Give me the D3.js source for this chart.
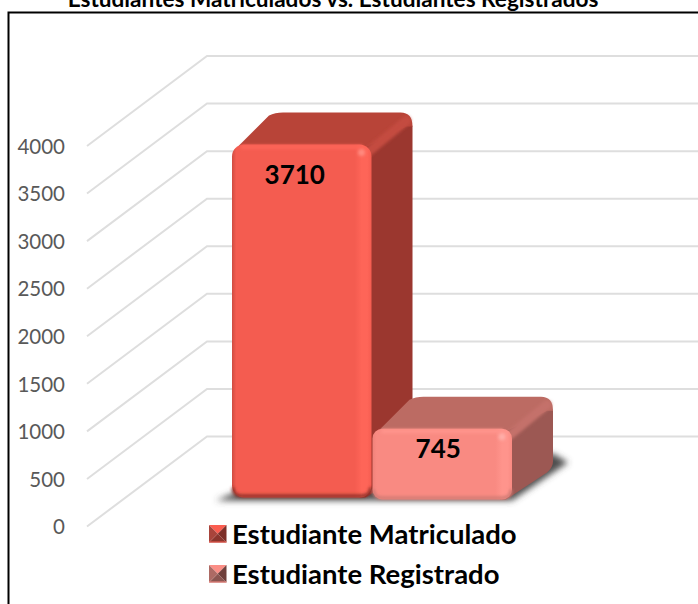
<!DOCTYPE html>
<html>
<head>
<meta charset="utf-8">
<script src="https://cdn.jsdelivr.net/npm/d3@7"></script>
<style>
  html, body { margin: 0; padding: 0; background: #fff; overflow: hidden; }
  text { font-family: Lato, "Open Sans", sans-serif; }
</style>
</head>
<body>
<div id="chart"></div>
<script>
"use strict";
const chartTitle = "Estudiantes Matriculados vs. Estudiantes Registrados";
const categories = ["Estudiante Matriculado", "Estudiante Registrado"];
const values = [3710, 745];
const yTicks = [0, 500, 1000, 1500, 2000, 2500, 3000, 3500, 4000];

const width = 698, height = 604;
const svg = d3.select("#chart").append("svg")
    .attr("width", width)
    .attr("height", height);

// colours for the two series
const palette = [
    { front: "#f45c50", top: "#b84438", side: "#9b372f", rim: "#fe6558", edge: "#cf4c41", dark: "#8a2d26", ridge: "#c44c41", spot: "#ff8a7f",
      mTop: "#fb5d50", mLeft: "#a8443b", mRight: "#7d2f28", mBottom: "#8a352d" },
    { front: "#f98a82", top: "#bc6b63", side: "#9c5853", rim: "#ff948c", edge: "#f0827a", dark: "#cf7a73", ridge: "#c4716a", spot: "#ffaea8",
      mTop: "#fb8e86", mLeft: "#ad6a64", mRight: "#6f403c", mBottom: "#8a5550" }
];

// fake 3d: floor runs from the front left corner to the back wall
const frontX = 87, frontY = 526.5;
const wallDX = 120, wallDY = -90;
const y = d3.scaleLinear().domain([0, 4000]).range([0, 380.5]);
const x = d3.scaleBand().domain(categories).range([232, 512]).paddingInner(0.007);
const barDX = 41, barDY = -32;
const floorY = [497.5, 499.5];
const labelShift = [{ dx: -7, dy: 30 }, { dx: -4, dy: 20 }];

const defs = svg.append("defs");
defs.append("filter").attr("id", "soft")
    .attr("x", "-20%").attr("y", "-40%").attr("width", "140%").attr("height", "180%")
    .append("feGaussianBlur").attr("stdDeviation", 3);
defs.append("filter").attr("id", "soft1")
    .attr("filterUnits", "userSpaceOnUse")
    .attr("x", 0).attr("y", 0).attr("width", width).attr("height", height)
    .append("feGaussianBlur").attr("stdDeviation", 1.5);

palette.forEach((c, i) => {
    const h = defs.append("linearGradient").attr("id", `edgeH${i}`);
    [[0, c.edge], [0.03, c.front], [0.88, c.front], [0.93, c.rim], [0.97, c.rim], [1, c.front]]
        .forEach(s => h.append("stop").attr("offset", s[0]).attr("stop-color", s[1]));
});

// chart frame, open on the right and at the bottom
svg.append("path")
    .attr("d", d3.line()([[width, 12.5], [8.5, 12.5], [8.5, height]]))
    .attr("fill", "none")
    .attr("stroke", "#000")
    .attr("stroke-width", 2);

svg.append("text")
    .attr("x", 333)
    .attr("y", 6.5)
    .attr("text-anchor", "middle")
    .attr("font-weight", 700)
    .attr("font-size", 22.6)
    .attr("fill", "#000")
    .text(chartTitle);

// gridlines: diagonal along the side wall, then flat along the back wall
svg.append("g").selectAll("path")
    .data(yTicks)
    .enter()
    .append("path")
    .attr("d", d => d3.line()([
        [frontX, frontY - y(d)],
        [frontX + wallDX, frontY + wallDY - y(d)],
        [width, frontY + wallDY - y(d)]
    ]))
    .attr("fill", "none")
    .attr("stroke", "#dedede")
    .attr("stroke-width", 2);

svg.append("g").selectAll("text")
    .data(yTicks)
    .enter()
    .append("text")
    .attr("x", 65)
    .attr("y", d => frontY - y(d))
    .attr("dy", "0.38em")
    .attr("text-anchor", "end")
    .attr("font-size", 20.5)
    .attr("fill", "#595959")
    .text(d => d);

// floor shadow
const shadowLeft = x(categories[0]) - 16;
const shadowRight = x(categories[1]) + x.bandwidth();
const shadow = d3.line()([
    [shadowLeft, floorY[1] + 1],
    [shadowRight, floorY[1] + 1],
    [shadowRight + barDX + 15, floorY[1] + barDY - 5],
    [shadowRight + barDX, floorY[1] + barDY - 14],
    [x(categories[0]) + 20, floorY[1] - 14]
]) + "Z";
svg.append("path")
    .attr("d", shadow)
    .attr("fill", "#4d4d4d")
    .attr("filter", "url(#soft)");

function drawBar(i) {
    const cat = categories[i], c = palette[i];
    const x0 = x(cat), x1 = x0 + x.bandwidth();
    const yb = floorY[i], yt = yb - y(values[i]);
    const g = svg.append("g");
    const r = 12;

    // right side face, rounded at its far corners
    g.append("path")
        .attr("d", `M${x1 - r},${yt + 6} L${x1 + barDX - 4},${yt + barDY + 4} L${x1 + barDX},${yt + barDY + r + 2}`
            + ` L${x1 + barDX},${yb + barDY - 6} Q${x1 + barDX},${yb + barDY} ${x1 + barDX - 6},${yb + barDY + 5}`
            + ` L${x1 - 6},${yb} L${x1 - r},${yb} Z`)
        .attr("fill", c.side);

    // top face, carried round the far corner so the ridge blends into it
    g.append("path")
        .attr("d", `M${x0 + 2},${yt + 6} L${x0 + barDX - 4},${yt + barDY + 3} Q${x0 + barDX + 2},${yt + barDY} ${x0 + barDX + 10},${yt + barDY}`
            + ` L${x1 + barDX - r},${yt + barDY} Q${x1 + barDX},${yt + barDY} ${x1 + barDX},${yt + barDY + r + 2}`
            + ` L${x1 + barDX - 6},${yt + barDY + r + 2} L${x1 - r},${yt + 6} Z`)
        .attr("fill", c.top);

    // soft ridge between top and side
    g.append("path")
        .attr("d", d3.line()([[x1 - 4, yt + 8], [x1 + barDX - 6, yt + barDY + 8]]))
        .attr("stroke", c.ridge)
        .attr("stroke-width", 9)
        .attr("stroke-linecap", "round")
        .attr("filter", "url(#soft1)");

    // front face
    g.append("rect")
        .attr("x", x0)
        .attr("y", yt)
        .attr("width", x.bandwidth())
        .attr("height", yb - yt)
        .attr("rx", i === 0 ? r : 10)
        .attr("fill", `url(#edgeH${i})`);

    // top and bottom bevel of the front
    g.append("path")
        .attr("d", d3.line()([[x0 + 9, yt + 2.5], [x1 - 9, yt + 2.5]]))
        .attr("stroke", c.rim)
        .attr("stroke-width", 4)
        .attr("filter", "url(#soft1)");
    g.append("path")
        .attr("d", `M${x0 + 1},${yb - 10} Q${x0 + 1},${yb - 1.5} ${x0 + 10},${yb - 1.5} L${x1 - 10},${yb - 1.5} Q${x1 - 1},${yb - 1.5} ${x1 - 1},${yb - 10}`)
        .attr("fill", "none")
        .attr("stroke", c.dark)
        .attr("stroke-width", 3)
        .attr("filter", "url(#soft1)");
    g.append("circle")
        .attr("cx", x1 - 10)
        .attr("cy", yt + 8)
        .attr("r", 3.5)
        .attr("fill", c.spot)
        .attr("filter", "url(#soft1)");

    g.append("text")
        .attr("x", (x0 + x1) / 2 + labelShift[i].dx)
        .attr("y", yt + labelShift[i].dy)
        .attr("dy", "0.36em")
        .attr("text-anchor", "middle")
        .attr("font-weight", 700)
        .attr("font-size", 26)
        .attr("fill", "#000")
        .text(values[i]);
}
categories.forEach((d, i) => drawBar(i));

// legend with pyramid markers
const legendY = d3.scaleBand().domain(categories).range([514, 594]);
const legend = svg.append("g").selectAll("g")
    .data(categories)
    .enter()
    .append("g")
    .attr("transform", d => `translate(209, ${legendY(d) + legendY.bandwidth() / 2 - 9})`);
const ms = 17.5, mc = ms / 2;
const faces = [
    { pts: [[0, 0], [ms, 0], [mc, mc]], key: "mTop" },
    { pts: [[ms, 0], [ms, ms], [mc, mc]], key: "mRight" },
    { pts: [[ms, ms], [0, ms], [mc, mc]], key: "mBottom" },
    { pts: [[0, ms], [0, 0], [mc, mc]], key: "mLeft" }
];
legend.each(function (d, i) {
    const m = d3.select(this);
    faces.forEach(f => {
        m.append("path")
            .attr("d", d3.line()(f.pts) + "Z")
            .attr("fill", palette[i][f.key]);
    });
    m.append("path")
        .attr("d", d3.line()([[0, ms - 0.5], [ms, ms - 0.5]]))
        .attr("stroke", palette[i].front)
        .attr("stroke-width", 1);
    m.append("text")
        .attr("x", 23)
        .attr("y", mc)
        .attr("dy", "0.36em")
        .attr("font-weight", 700)
        .attr("font-size", 27.5)
        .attr("fill", "#000")
        .text(d);
});
</script>
</body>
</html>
